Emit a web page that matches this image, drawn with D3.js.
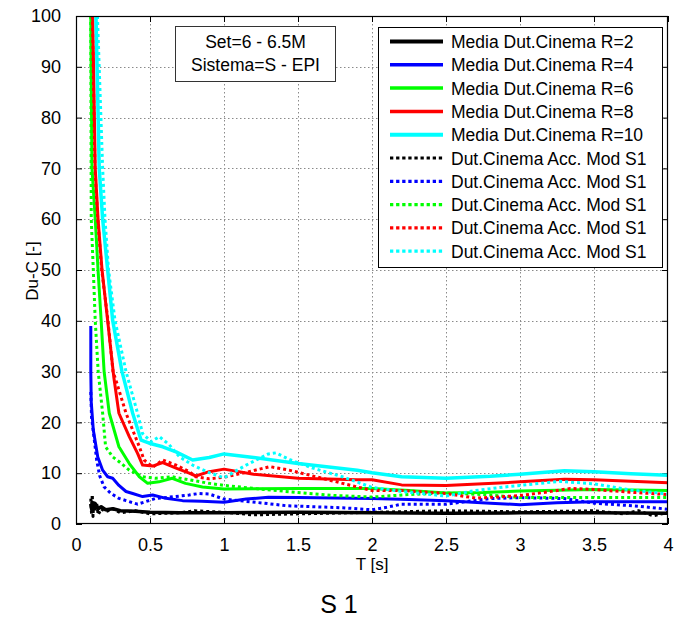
<!DOCTYPE html>
<html>
<head>
<meta charset="utf-8">
<script src="https://cdn.jsdelivr.net/npm/d3@7/dist/d3.min.js"></script>
<style>
  html, body { margin: 0; padding: 0; background: #fff; }
  svg { display: block; }
  text { font-family: "Liberation Sans", Arial, sans-serif; fill: #000; }
</style>
</head>
<body>
<script>
// ---- data: [T (s), Du-C] pairs ----
const mediaR2 = [[0.1,4.0],[0.105,3.0],[0.11,4.3],[0.12,3.1],[0.13,4.0],[0.15,3.0],[0.17,3.4],[0.2,2.8],[0.25,3.0],[0.3,2.6],[0.4,2.5],[0.5,2.3],[0.7,2.2],[1.0,2.2],[1.5,2.3],[2.0,2.2],[2.5,2.1],[3.0,2.2],[3.5,2.2],[4.0,2.1]];
const mediaR4 = [[0.1,39],[0.1,30],[0.103,24],[0.117,18.5],[0.147,13.2],[0.18,10.6],[0.214,9.3],[0.248,9.0],[0.29,7.6],[0.338,6.4],[0.383,6.0],[0.45,5.4],[0.518,5.7],[0.608,5.05],[0.72,4.6],[0.85,4.5],[1.0,4.3],[1.15,4.9],[1.3,5.25],[1.5,5.2],[1.75,5.1],[2.0,5.0],[2.25,4.8],[2.5,4.6],[2.8,4.1],[3.0,3.8],[3.25,4.2],[3.5,4.4],[3.75,4.4],[4.0,4.4]];
const mediaR6 = [[0.1,100],[0.108,70],[0.13,60],[0.149,50],[0.17,40],[0.19,30],[0.225,21.8],[0.29,15.2],[0.36,11.9],[0.428,9.3],[0.484,8.0],[0.56,8.3],[0.65,9.0],[0.74,8.0],[0.855,7.3],[1.0,6.9],[1.5,7.0],[2.0,7.0],[2.25,6.6],[2.5,6.1],[2.75,6.2],[3.0,6.5],[3.5,6.8],[4.0,6.6]];
const mediaR8 = [[0.113,100],[0.13,70],[0.149,60],[0.176,50],[0.214,40],[0.255,29],[0.29,21.8],[0.36,17.2],[0.416,13.9],[0.45,11.6],[0.518,11.4],[0.586,12.1],[0.676,11.0],[0.765,10.0],[0.81,9.45],[0.9,10.3],[1.0,10.8],[1.2,9.8],[1.5,9.0],[1.9,8.7],[2.0,8.7],[2.2,7.7],[2.5,7.6],[2.75,7.9],[3.0,8.3],[3.3,8.8],[3.5,8.7],[3.75,8.4],[4.0,8.1]];
const mediaR10 = [[0.135,100],[0.157,70],[0.18,60],[0.214,50],[0.248,40],[0.311,30],[0.383,21.8],[0.44,16.5],[0.495,15.9],[0.586,15.2],[0.676,14.2],[0.788,12.6],[0.9,13.1],[1.0,13.8],[1.2,13.1],[1.5,11.9],[1.9,10.6],[2.0,10.1],[2.2,9.3],[2.5,9.0],[2.8,9.4],[3.0,9.8],[3.3,10.5],[3.5,10.3],[3.75,9.9],[4.0,9.6]];

const accR2 = [[0.1,5.0],[0.105,2.0],[0.11,5.8],[0.115,1.5],[0.12,4.5],[0.13,2.5],[0.14,4.0],[0.15,1.8],[0.17,3.0],[0.2,2.4],[0.25,3.0],[0.3,2.2],[0.4,2.6],[0.5,2.0],[0.7,2.2],[0.8,2.6],[1.0,2.3],[1.2,1.8],[1.5,2.0],[2.0,2.3],[2.5,2.6],[3.0,2.4],[3.5,2.6],[3.7,2.0],[3.8,2.6],[3.9,1.6],[4.0,2.3]];
const accR4 = [[0.1,26],[0.105,21],[0.12,17.5],[0.14,12.5],[0.16,9.5],[0.19,7.3],[0.236,6.0],[0.29,5.05],[0.338,4.6],[0.416,3.9],[0.47,4.4],[0.54,5.05],[0.62,5.25],[0.7,5.5],[0.765,5.7],[0.83,6.0],[0.9,5.9],[1.0,4.9],[1.27,4.1],[1.42,3.6],[1.6,3.4],[1.8,3.2],[2.0,2.8],[2.1,3.3],[2.2,3.9],[2.5,3.9],[2.8,5.0],[3.0,5.2],[3.3,5.0],[3.5,4.1],[3.8,3.5],[4.0,2.9]];
const accR6 = [[0.1,100],[0.103,60],[0.117,50],[0.13,40],[0.15,30],[0.18,21.8],[0.2,15.2],[0.248,13.2],[0.29,12.3],[0.36,10.6],[0.45,9.3],[0.54,9.0],[0.65,9.3],[0.765,8.7],[0.9,8.0],[1.0,7.6],[1.27,6.8],[1.5,6.2],[1.75,5.6],[2.0,5.3],[2.25,5.8],[2.5,6.1],[2.75,5.8],[3.0,5.2],[3.5,5.2],[4.0,5.2]];
const accR8 = [[0.11,100],[0.128,70],[0.147,60],[0.174,50],[0.216,40],[0.25,30],[0.27,28.3],[0.338,21.8],[0.383,18.5],[0.428,15.2],[0.46,12.6],[0.52,11.2],[0.586,12.6],[0.676,11.6],[0.765,10.3],[0.81,9.3],[0.9,8.9],[1.0,9.2],[1.17,10.3],[1.31,11.3],[1.44,10.6],[1.58,9.6],[1.8,8.0],[2.0,6.6],[2.2,6.6],[2.5,6.0],[2.7,5.1],[2.9,5.4],[3.0,5.6],[3.16,6.2],[3.34,7.0],[3.5,6.8],[3.72,6.3],[4.0,5.8]];
const accR10 = [[0.145,100],[0.18,70],[0.196,60],[0.22,50],[0.264,40],[0.338,30],[0.416,21.8],[0.45,17.8],[0.507,16.2],[0.563,17.2],[0.63,15.6],[0.7,13.2],[0.788,11.6],[0.9,10.1],[1.0,9.1],[1.15,11.6],[1.3,13.8],[1.35,14.0],[1.45,12.6],[1.6,11.0],[1.8,9.3],[2.0,7.2],[2.2,6.4],[2.5,5.5],[2.7,6.6],[2.9,7.3],[3.0,7.6],[3.27,8.4],[3.5,7.9],[3.75,6.7],[4.0,5.9]];

const seriesColors = ["#000000", "#0000ff", "#00ff00", "#ff0000", "#00ffff"];
const mediaLabels = ["Media Dut.Cinema R=2", "Media Dut.Cinema R=4", "Media Dut.Cinema R=6", "Media Dut.Cinema R=8", "Media Dut.Cinema R=10"];
const accLabel = "Dut.Cinema Acc. Mod S1";
const xTicks = [0, 0.5, 1, 1.5, 2, 2.5, 3, 3.5, 4];
const yTicks = [0, 10, 20, 30, 40, 50, 60, 70, 80, 90, 100];
const infoLines = ["Set=6 - 6.5M", "Sistema=S - EPI"];

// ---- layout ----
const W = 675, H = 619;
const plot = { left: 76, top: 16, right: 668, bottom: 524 };

const svg = d3.select("body").append("svg").attr("width", W).attr("height", H);

const x = d3.scaleLinear().domain([0, 4]).range([plot.left, plot.right]);
const y = d3.scaleLinear().domain([0, 100]).range([plot.bottom, plot.top]);

// grid
const grid = svg.append("g").attr("stroke", "#8a8a8a").attr("stroke-width", 1).attr("stroke-dasharray", "1.5,2.5");
grid.selectAll("line.gx").data(xTicks.slice(1, -1)).join("line")
  .attr("x1", d => Math.round(x(d)) + 0.5).attr("x2", d => Math.round(x(d)) + 0.5)
  .attr("y1", plot.top).attr("y2", plot.bottom);
grid.selectAll("line.gy").data(yTicks.slice(1, -1)).join("line")
  .attr("y1", d => Math.round(y(d)) + 0.5).attr("y2", d => Math.round(y(d)) + 0.5)
  .attr("x1", plot.left).attr("x2", plot.right);

// axes: MATLAB-style inward ticks on all four sides
const tickLen = 6;
const fmt = d => String(d);
svg.append("g").attr("transform", `translate(0,${plot.bottom})`)
  .call(d3.axisBottom(x).tickValues(xTicks).tickFormat(fmt).tickSizeInner(-tickLen).tickSizeOuter(0).tickPadding(14))
  .call(g => g.select(".domain").remove())
  .call(g => g.selectAll("text").attr("font-size", 18).attr("font-family", "Liberation Sans, Arial, sans-serif"));
svg.append("g").attr("transform", `translate(${plot.left},0)`)
  .call(d3.axisLeft(y).tickValues(yTicks).tickFormat(fmt).tickSizeInner(-tickLen).tickSizeOuter(0).tickPadding(15))
  .call(g => g.select(".domain").remove())
  .call(g => g.selectAll("text").attr("font-size", 18).attr("font-family", "Liberation Sans, Arial, sans-serif"));
svg.append("g").attr("transform", `translate(0,${plot.top})`)
  .call(d3.axisTop(x).tickValues(xTicks).tickFormat("").tickSizeInner(-tickLen).tickSizeOuter(0))
  .call(g => g.select(".domain").remove());
svg.append("g").attr("transform", `translate(${plot.right},0)`)
  .call(d3.axisRight(y).tickValues(yTicks).tickFormat("").tickSizeInner(-tickLen).tickSizeOuter(0))
  .call(g => g.select(".domain").remove());

// clip
svg.append("defs").append("clipPath").attr("id", "plotClip")
  .append("rect").attr("x", plot.left).attr("y", plot.top)
  .attr("width", plot.right - plot.left).attr("height", plot.bottom - plot.top);

const line = d3.line().x(d => x(d[0])).y(d => y(d[1]));
const curves = svg.append("g").attr("clip-path", "url(#plotClip)").attr("fill", "none")
  .attr("stroke-linejoin", "round");

const mediaSeries = [mediaR2, mediaR4, mediaR6, mediaR8, mediaR10];
const accSeries = [accR2, accR4, accR6, accR8, accR10];
const solidWidths = [3.5, 3, 3, 3, 3.5];

curves.selectAll("path.media").data(mediaSeries).join("path")
  .attr("class", "media")
  .attr("d", line)
  .attr("stroke", (d, i) => seriesColors[i])
  .attr("stroke-width", (d, i) => solidWidths[i]);

curves.selectAll("path.acc").data(accSeries).join("path")
  .attr("class", "acc")
  .attr("d", line)
  .attr("stroke", (d, i) => seriesColors[i])
  .attr("stroke-width", 3)
  .attr("stroke-dasharray", "3,3");

// plot frame
svg.append("rect").attr("x", plot.left + 0.5).attr("y", plot.top + 0.5)
  .attr("width", plot.right - plot.left - 1).attr("height", plot.bottom - plot.top - 1)
  .attr("fill", "none").attr("stroke", "#000").attr("stroke-width", 1.2);

// info box
const info = svg.append("g");
info.append("rect").attr("x", 175.5).attr("y", 26.5).attr("width", 160).attr("height", 55)
  .attr("fill", "#fff").attr("stroke", "#333").attr("stroke-width", 1);
info.selectAll("text").data(infoLines).join("text")
  .attr("x", 255.5).attr("y", (d, i) => 48 + i * 22.5)
  .attr("text-anchor", "middle").attr("font-size", 17.5)
  .text(d => d);

// legend
const legendItems = mediaLabels.map((t, i) => ({ text: t, color: seriesColors[i], dashed: false, w: solidWidths[i] + 0.5 }))
  .concat(seriesColors.map(c => ({ text: accLabel, color: c, dashed: true, w: 3.2 })));
const lg = svg.append("g");
lg.append("rect").attr("x", 378.5).attr("y", 27.5).attr("width", 284).attr("height", 240)
  .attr("fill", "#fff").attr("stroke", "#000").attr("stroke-width", 1);
const rows = lg.selectAll("g.row").data(legendItems).join("g")
  .attr("transform", (d, i) => `translate(0,${41.5 + i * 23.3})`);
rows.append("line").attr("x1", 390).attr("x2", 443).attr("y1", 0).attr("y2", 0)
  .attr("stroke", d => d.color).attr("stroke-width", d => d.w)
  .attr("stroke-dasharray", d => d.dashed ? "3.3,2.8" : null);
rows.append("text").attr("x", 451).attr("y", 6.5).attr("font-size", 17.5).text(d => d.text);

// axis titles
svg.append("text").attr("x", 372).attr("y", 570).attr("text-anchor", "middle")
  .attr("font-size", 17).text("T [s]");
svg.append("text").attr("transform", "translate(38,271) rotate(-90)")
  .attr("text-anchor", "middle").attr("font-size", 17).text("Du-C [-]");

// caption
svg.append("text").attr("x", 339).attr("y", 613).attr("text-anchor", "middle")
  .attr("font-family", "'Open Sans', sans-serif").attr("font-size", 25).text("S 1");
</script>
</body>
</html>
